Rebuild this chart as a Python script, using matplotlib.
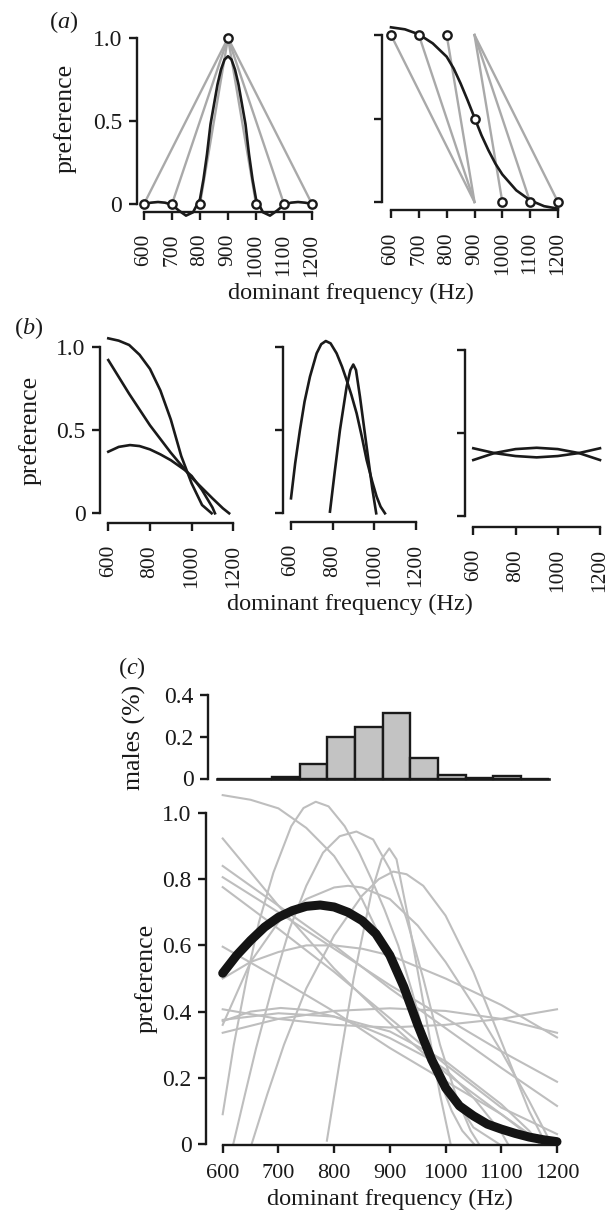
import numpy as np
import matplotlib
matplotlib.use('Agg')
import matplotlib.pyplot as plt

plt.rcParams['font.family'] = ['Liberation Serif', 'DejaVu Serif']
plt.rcParams['mathtext.fontset'] = 'custom'
plt.rcParams['mathtext.rm'] = 'Liberation Serif'
plt.rcParams['mathtext.it'] = 'Liberation Serif:italic'

# ------------------------------------------------------------------ data
ticks_a = [600, 700, 800, 900, 1000, 1100, 1200]
ticks_b = [600, 800, 1000, 1200]
ticks_c = [600, 700, 800, 900, 1000, 1100, 1200]
pref_ticks_ab = [0, 0.5, 1.0]
pref_labels_ab = ['0', '0.5', '1.0']
pref_ticks_c = [0, 0.2, 0.4, 0.6, 0.8, 1.0]
pref_labels_c = ['0', '0.2', '0.4', '0.6', '0.8', '1.0']
hist_ticks = [0, 0.2, 0.4]
hist_labels = ['0', '0.2', '0.4']

# (a) left: stimulus points, triangular functions, fitted spline
a1_pts_hz = [600, 700, 800, 900, 1000, 1100, 1200]
a1_pts_pref = [0, 0, 0, 1, 0, 0, 0]
a1_tri_base = [600, 700, 800, 1000, 1100, 1200]
a1_tri_apex = 900
a1_fit_hz = [600, 625, 650, 675, 700, 725, 750, 775, 800, 812.5, 825, 837.5, 850,
             862.5, 875, 887.5, 900, 912.5, 925, 937.5, 950, 962.5, 975, 987.5,
             1000, 1025, 1050, 1075, 1100, 1125, 1150, 1175, 1200]
a1_fit_pref = [0.0, 0.008, 0.012, 0.008, -0.005, -0.04, -0.07, -0.05, 0.03, 0.15,
               0.30, 0.48, 0.60, 0.72, 0.81, 0.87, 0.89, 0.87, 0.81, 0.72, 0.60,
               0.48, 0.30, 0.15, 0.03, -0.05, -0.07, -0.04, -0.005, 0.008, 0.012,
               0.008, 0.0]

# (a) right
a2_pts_hz = [600, 700, 800, 900, 1000, 1100, 1200]
a2_pts_pref = [1, 1, 1, 0.5, 0, 0, 0]
a2_step_start = [600, 700, 800, 900, 900, 900]
a2_step_end = [900, 900, 900, 1000, 1100, 1200]
a2_fit_hz = [600, 650, 700, 750, 800, 825, 850, 875, 900, 925, 950, 975, 1000,
             1050, 1100, 1150, 1200]
a2_fit_pref = [1.046, 1.034, 1.004, 0.95, 0.87, 0.80, 0.71, 0.61, 0.505, 0.40,
               0.31, 0.23, 0.165, 0.07, 0.01, -0.025, -0.04]

# (b) left: open-ended functions
bl1_hz = [600, 650, 700, 750, 800, 850, 900, 950, 1000, 1050, 1096]
bl1_pref = [1.054, 1.04, 1.014, 0.955, 0.87, 0.74, 0.565, 0.345, 0.18, 0.05, 0.0]
bl2_hz = [600, 700, 800, 900, 1000, 1100, 1150, 1180]
bl2_pref = [0.923, 0.72, 0.53, 0.365, 0.215, 0.09, 0.03, 0.0]
bl3_hz = [600, 650, 704, 750, 800, 850, 900, 968, 1000, 1050, 1100, 1112]
bl3_pref = [0.371, 0.40, 0.411, 0.405, 0.385, 0.355, 0.32, 0.26, 0.225, 0.14, 0.035, 0.0]
# (b) middle: closed functions
bm1_hz = [600, 620, 643, 665, 691, 723, 745, 767, 790, 819, 845, 867, 890, 915,
          940, 963, 990, 1011, 1030, 1051]
bm1_pref = [0.09, 0.30, 0.50, 0.67, 0.82, 0.96, 1.015, 1.034, 1.02, 0.96, 0.88,
            0.80, 0.71, 0.60, 0.46, 0.32, 0.19, 0.10, 0.04, 0.0]
bm2_hz = [787, 810, 835, 867, 885, 899, 912, 931, 963, 990, 1009]
bm2_pref = [0.01, 0.25, 0.50, 0.76, 0.86, 0.893, 0.86, 0.70, 0.40, 0.15, 0.0]
# (b) right: flat functions
br1_hz = [600, 700, 800, 900, 1000, 1100, 1200]
br1_pref = [0.336, 0.378, 0.402, 0.41, 0.402, 0.378, 0.336]
br2_hz = [600, 700, 800, 900, 1000, 1100, 1200]
br2_pref = [0.407, 0.378, 0.36, 0.352, 0.36, 0.378, 0.407]

# (c) additional individual functions
c8_hz = [600, 700, 800, 900, 1000, 1100, 1200]
c8_pref = [0.84, 0.72, 0.60, 0.47, 0.35, 0.23, 0.115]
c9_hz = [600, 700, 800, 900, 1000, 1100, 1200]
c9_pref = [0.806, 0.70, 0.59, 0.48, 0.38, 0.28, 0.188]
c10_hz = [600, 700, 800, 900, 1000, 1100, 1200]
c10_pref = [0.776, 0.65, 0.52, 0.38, 0.24, 0.11, 0.03]
c11_hz = [600, 700, 800, 900, 1000, 1100, 1170]
c11_pref = [0.596, 0.50, 0.40, 0.29, 0.19, 0.09, 0.0]
c12_hz = [600, 650, 700, 750, 800, 850, 900, 1000, 1100, 1200]
c12_pref = [0.50, 0.55, 0.58, 0.60, 0.60, 0.59, 0.57, 0.50, 0.42, 0.322]
c13_hz = [600, 700, 800, 900, 1000, 1100, 1150, 1170]
c13_pref = [0.375, 0.395, 0.385, 0.34, 0.25, 0.12, 0.04, 0.0]
c14_hz = [619, 640, 660, 690, 720, 750, 780, 810, 840, 870, 900, 930, 960, 990,
          1020, 1045, 1060]
c14_pref = [0.0, 0.15, 0.29, 0.48, 0.65, 0.78, 0.88, 0.93, 0.944, 0.92, 0.83,
            0.68, 0.50, 0.30, 0.14, 0.04, 0.0]
c15_hz = [652, 680, 710, 750, 800, 850, 880, 906, 930, 960, 1000, 1050, 1100,
          1150, 1180]
c15_pref = [0.0, 0.15, 0.30, 0.47, 0.63, 0.75, 0.80, 0.823, 0.815, 0.78, 0.69,
            0.52, 0.31, 0.10, 0.0]
c16_hz = [600, 650, 700, 750, 800, 825, 850, 900, 950, 1000, 1050, 1100, 1150, 1190]
c16_pref = [0.36, 0.55, 0.67, 0.74, 0.775, 0.78, 0.775, 0.74, 0.66, 0.55, 0.42,
            0.28, 0.13, 0.0]

# (c) population mean preference function
cmean_hz = [600, 625, 650, 675, 700, 725, 750, 775, 800, 825, 850, 875, 900, 925,
            950, 975, 1000, 1025, 1050, 1075, 1100, 1125, 1150, 1175, 1200]
cmean_pref = [0.516, 0.57, 0.615, 0.655, 0.685, 0.705, 0.718, 0.722, 0.716, 0.70,
              0.675, 0.635, 0.57, 0.475, 0.36, 0.255, 0.17, 0.115, 0.085, 0.06,
              0.045, 0.032, 0.021, 0.013, 0.007]

# (c) histogram of male dominant frequency
hist_edges = [589, 639, 688, 738, 788, 838, 887, 937, 987, 1037, 1086, 1136, 1186]
hist_props = [0, 0, 0.007, 0.07, 0.2, 0.249, 0.316, 0.099, 0.019, 0.004, 0.013, 0]

# ------------------------------------------------------------------ layout
W, H = 612, 1213
fig = plt.figure(figsize=(W / 100, H / 100), dpi=100)
BLACK = '#1a1a1a'
GREY_A = '#a9a9a9'
GREY_C = '#bebebe'
YTICK_FS = 17
XTICK_ROT_FS = 15.5
XTICK_C_FS = 16
LAB_FS = 17.5
PREF_FS = 18.5


def place(xd, xp, yd, yp, spine_x, spine_y, right_px, top_px):
    sx = (xp[1] - xp[0]) / (xd[1] - xd[0])
    sy = (yp[0] - yp[1]) / (yd[1] - yd[0])
    ax = fig.add_axes([spine_x / W, 1 - spine_y / H,
                       (right_px - spine_x) / W, (spine_y - top_px) / H])
    ax.set_xlim(xd[0] + (spine_x - xp[0]) / sx, xd[0] + (right_px - xp[0]) / sx)
    ax.set_ylim(yd[0] - (spine_y - yp[0]) / sy, yd[0] + (yp[0] - top_px) / sy)
    ax.patch.set_alpha(0)
    for s in ('top', 'right'):
        ax.spines[s].set_visible(False)
    for s in ('left', 'bottom'):
        ax.spines[s].set_linewidth(1.7)
        ax.spines[s].set_color(BLACK)
        ax.spines[s].set_capstyle('projecting')
    ax.tick_params(length=5.5, width=1.7, color=BLACK, labelcolor=BLACK)
    ax.tick_params(axis='y', labelsize=YTICK_FS, pad=5)
    return ax


def style_ab(ax, xt, yshow=True):
    ax.spines['left'].set_bounds(0, 1)
    ax.spines['bottom'].set_bounds(600, 1200)
    ax.set_xticks(xt)
    ax.set_xticklabels([str(v) for v in xt], rotation=90)
    ax.set_yticks(pref_ticks_ab)
    if yshow:
        ax.set_yticklabels(pref_labels_ab)
    else:
        ax.set_yticklabels([])
    ax.tick_params(axis='x', pad=10.5, labelsize=XTICK_ROT_FS)


# ---- (a) left
axa1 = place((600, 1200), (144, 312), (0, 1), (204, 38), 136.5, 211.5, 322, 26)
style_ab(axa1, ticks_a)
for b in a1_tri_base:
    axa1.plot([b, a1_tri_apex], [0, 1], color=GREY_A, lw=1.7, zorder=2)
axa1.plot(a1_fit_hz, a1_fit_pref, color=BLACK, lw=1.9, zorder=3, clip_on=False)
axa1.plot(a1_pts_hz, a1_pts_pref, 'o', ms=6, mfc='white', mec=BLACK, mew=1.7,
          zorder=4, clip_on=False)

# ---- (a) right
axa2 = place((600, 1200), (391, 558), (0, 1), (202, 35), 382, 210, 568, 24)
style_ab(axa2, ticks_a, yshow=False)
for s, e in zip(a2_step_start, a2_step_end):
    axa2.plot([s, e], [1, 0], color=GREY_A, lw=1.7, zorder=2)
axa2.plot(a2_fit_hz, a2_fit_pref, color=BLACK, lw=1.9, zorder=3, clip_on=False)
axa2.plot(a2_pts_hz, a2_pts_pref, 'o', ms=6, mfc='white', mec=BLACK, mew=1.7,
          zorder=4, clip_on=False)

# ---- (b)
axb1 = place((600, 1200), (108.3, 233.3), (0, 1), (513.3, 347.3), 100, 522.7, 240, 330)
axb2 = place((600, 1200), (291, 416), (0, 1), (513.3, 346.7), 282.7, 521.7, 425, 330)
axb3 = place((600, 1200), (473.3, 600), (0, 1), (515.7, 350), 465, 526.7, 608, 330)
style_ab(axb1, ticks_b)
style_ab(axb2, ticks_b, yshow=False)
style_ab(axb3, ticks_b, yshow=False)
for hz, pr in ((bl1_hz, bl1_pref), (bl2_hz, bl2_pref), (bl3_hz, bl3_pref)):
    axb1.plot(hz, pr, color=BLACK, lw=1.9, clip_on=False)
for hz, pr in ((bm1_hz, bm1_pref), (bm2_hz, bm2_pref)):
    axb2.plot(hz, pr, color=BLACK, lw=1.9, clip_on=False)
for hz, pr in ((br1_hz, br1_pref), (br2_hz, br2_pref)):
    axb3.plot(hz, pr, color=BLACK, lw=1.9, clip_on=False)

# ---- (c) histogram
axh = place((600, 1200), (222.7, 557), (0, 0.4), (778.5, 695), 208, 783, 570, 688)
axh.spines['bottom'].set_visible(False)
axh.spines['left'].set_bounds(0, 0.4)
axh.set_xticks([])
axh.set_yticks(hist_ticks)
axh.set_yticklabels(hist_labels)
widths = np.diff(hist_edges)
axh.bar(hist_edges[:-1], hist_props, width=widths, align='edge', color='#c3c3c3',
        edgecolor=BLACK, linewidth=1.7, zorder=2)
axh.plot([hist_edges[0], hist_edges[-1]], [0, 0], color=BLACK, lw=1.9, zorder=3)

# ---- (c) main
axc = place((600, 1200), (222.7, 557), (0, 1), (1144, 813), 206, 1145, 575, 780)
axc.spines['left'].set_bounds(0, 1)
axc.spines['bottom'].set_bounds(600, 1200)
axc.set_xticks(ticks_c)
axc.set_xticklabels([str(v) for v in ticks_c])
axc.set_yticks(pref_ticks_c)
axc.set_yticklabels(pref_labels_c)
axc.tick_params(axis='x', labelsize=XTICK_C_FS, pad=8)
grey_curves = [(bl1_hz, bl1_pref), (bl2_hz, bl2_pref), (bl3_hz, bl3_pref),
               (bm1_hz, bm1_pref), (bm2_hz, bm2_pref), (br1_hz, br1_pref),
               (br2_hz, br2_pref), (c8_hz, c8_pref), (c9_hz, c9_pref),
               (c10_hz, c10_pref), (c11_hz, c11_pref), (c12_hz, c12_pref),
               (c13_hz, c13_pref), (c14_hz, c14_pref), (c15_hz, c15_pref),
               (c16_hz, c16_pref)]
for hz, pr in grey_curves:
    axc.plot(hz, pr, color=GREY_C, lw=1.5, zorder=2, clip_on=False)
axc.plot(cmean_hz, cmean_pref, color='#141414', lw=6.5, solid_capstyle='round',
         zorder=3, clip_on=False)

# ---- texts


def ftext(x, y, s, **kw):
    fig.text(x / W, 1 - y / H, s, ha='center', va='center', color=BLACK, **kw)


ftext(64, 22, '($\\mathit{a}$)', fontsize=LAB_FS)
ftext(29, 328, '($\\mathit{b}$)', fontsize=LAB_FS)
ftext(132, 668, '($\\mathit{c}$)', fontsize=LAB_FS)
ftext(65, 118, 'preference', fontsize=PREF_FS, rotation=90)
ftext(30, 430, 'preference', fontsize=PREF_FS, rotation=90)
ftext(146, 978, 'preference', fontsize=PREF_FS, rotation=90)
ftext(134, 737, 'males (%)', fontsize=PREF_FS, rotation=90)
ftext(351, 293, 'dominant frequency (Hz)', fontsize=LAB_FS)
ftext(350, 604, 'dominant frequency (Hz)', fontsize=LAB_FS)
ftext(390, 1199, 'dominant frequency (Hz)', fontsize=LAB_FS)

fig.savefig('out.png', dpi=100)
